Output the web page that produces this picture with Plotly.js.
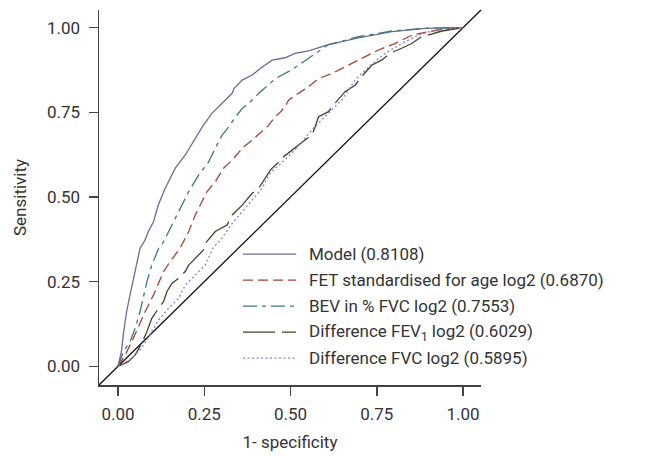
<!DOCTYPE html>
<html>
<head>
<meta charset="utf-8">
<script src="https://cdn.plot.ly/plotly-3.0.1.min.js"></script>
<style>html,body{margin:0;padding:0;background:#fff;}#chart{width:669px;height:456px;}</style>
</head>
<body>
<div id="chart"></div>
<script>
// ---- data (1 - specificity, sensitivity) ----
var seriesNames = [
  'Model (0.8108)',
  'FET standardised for age log2 (0.6870)',
  'BEV in % FVC log2 (0.7553)',
  'Difference FEV<sub>1</sub> log2 (0.6029)',
  'Difference FVC log2 (0.5895)'
];

var modelX = [0,0.005,0.01,0.016,0.025,0.035,0.045,0.054,0.064,0.078,0.088,0.103,0.117,0.137,0.166,0.195,0.224,0.243,0.272,0.301,0.331,0.336,0.36,0.389,0.418,0.447,0.467,0.484,0.513,0.552,0.61,0.697,0.794,0.891,0.978,1];
var modelY = [0,0.02,0.044,0.098,0.162,0.211,0.261,0.309,0.349,0.372,0.398,0.427,0.477,0.526,0.585,0.624,0.673,0.705,0.747,0.776,0.806,0.82,0.845,0.86,0.884,0.904,0.909,0.911,0.924,0.931,0.95,0.97,0.988,0.998,1,1];

var fetX = [0,0.021,0.04,0.059,0.079,0.103,0.122,0.132,0.151,0.18,0.205,0.224,0.248,0.258,0.282,0.306,0.331,0.36,0.389,0.418,0.437,0.455,0.467,0.484,0.494,0.523,0.552,0.581,0.619,0.648,0.677,0.717,0.755,0.803,0.852,0.9,0.948,1];
var fetY = [0,0.034,0.073,0.117,0.162,0.211,0.26,0.28,0.309,0.349,0.398,0.447,0.496,0.516,0.545,0.585,0.609,0.644,0.668,0.695,0.712,0.737,0.747,0.766,0.786,0.806,0.825,0.85,0.864,0.879,0.894,0.914,0.934,0.953,0.978,0.988,0.996,1];

var bevX = [0,0.016,0.035,0.05,0.064,0.074,0.084,0.098,0.118,0.127,0.147,0.171,0.186,0.205,0.234,0.263,0.282,0.302,0.321,0.341,0.36,0.389,0.408,0.428,0.457,0.503,0.552,0.61,0.697,0.794,0.891,1];
var bevY = [0,0.044,0.073,0.113,0.162,0.211,0.25,0.299,0.349,0.358,0.398,0.447,0.476,0.516,0.565,0.604,0.644,0.683,0.707,0.737,0.761,0.786,0.806,0.825,0.85,0.875,0.909,0.95,0.973,0.99,0.998,1];

var fev1X = [0,0.03,0.05,0.069,0.084,0.098,0.118,0.132,0.142,0.156,0.176,0.195,0.205,0.224,0.248,0.253,0.282,0.316,0.331,0.36,0.389,0.408,0.423,0.442,0.467,0.474,0.542,0.561,0.57,0.581,0.61,0.624,0.658,0.687,0.706,0.735,0.764,0.788,0.822,0.851,0.88,0.919,0.939,1];
var fev1Y = [0,0.014,0.034,0.068,0.103,0.142,0.172,0.191,0.221,0.245,0.26,0.28,0.299,0.319,0.344,0.363,0.398,0.417,0.447,0.476,0.511,0.526,0.55,0.58,0.604,0.614,0.668,0.683,0.702,0.737,0.752,0.771,0.811,0.83,0.855,0.889,0.904,0.924,0.939,0.953,0.973,0.983,0.99,1];

var fvcX = [0,0.04,0.069,0.098,0.118,0.147,0.176,0.195,0.224,0.253,0.275,0.301,0.331,0.36,0.389,0.418,0.437,0.455,0.467,0.513,0.57,0.61,0.648,0.687,0.726,0.774,0.822,0.871,0.919,1];
var fvcY = [0,0.024,0.054,0.103,0.137,0.172,0.201,0.24,0.27,0.299,0.349,0.378,0.422,0.457,0.491,0.526,0.565,0.585,0.594,0.639,0.707,0.747,0.786,0.845,0.884,0.924,0.953,0.978,0.993,1];

var tickVals = [0, 0.25, 0.5, 0.75, 1];
var tickText = ['0.00', '0.25', '0.50', '0.75', '1.00'];
var xTitle = '1- specificity';
var yTitle = 'Sensitivity';

// ---- styles ----
var colors = ['#6c6a9c', '#a6452f', '#3e7c74', '#47402a', '#8d7fcf'];
var dashes = ['solid', '10px,5px', '14px,5px,4px,5px', '32px,7px', '2px,2.5px'];
var widths = [1.3, 1.3, 1.3, 1.3, 1.3];
var xs = [modelX, fetX, bevX, fev1X, fvcX];
var ys = [modelY, fetY, bevY, fev1Y, fvcY];

var FONT = 'Roboto, "DejaVu Sans", sans-serif';
var FS = 17;
var TXT = '#333333';
var AX = '#444444';

var traces = xs.map(function (x, i) {
  return {
    x: x, y: ys[i], type: 'scatter', mode: 'lines', name: seriesNames[i],
    line: {color: colors[i], width: widths[i], dash: dashes[i]},
    showlegend: false, hoverinfo: 'x+y'
  };
});

var rng = [-0.055, 1.052];

// manual legend (keys + labels)
var shapes = [{
  type: 'line', xref: 'paper', yref: 'paper', x0: 0, y0: 0, x1: 1, y1: 1,
  line: {color: '#111111', width: 1.3}, layer: 'below'
}];
var annotations = [];
var legTop = 0.349, legStep = 0.0693;
seriesNames.forEach(function (nm, i) {
  var yy = legTop - i * legStep;
  shapes.push({
    type: 'line', xref: 'paper', yref: 'paper', x0: 0.377, x1: 0.516, y0: yy, y1: yy,
    line: {color: colors[i], width: widths[i], dash: dashes[i]}
  });
  annotations.push({
    xref: 'paper', yref: 'paper', x: 0.545, y: yy, xanchor: 'left', yanchor: 'middle',
    text: nm, showarrow: false, font: {family: FONT, size: FS, color: TXT}
  });
});

var layout = {
  width: 669, height: 456,
  margin: {l: 99, r: 188, t: 10, b: 71, pad: 0},
  paper_bgcolor: '#ffffff', plot_bgcolor: '#ffffff',
  font: {family: FONT, size: FS, color: TXT},
  showlegend: false,
  xaxis: {
    range: rng, showgrid: false, zeroline: false,
    showline: true, linecolor: AX, linewidth: 1.5, mirror: false,
    ticks: 'outside', ticklen: 9, tickwidth: 1.5, tickcolor: AX,
    tickvals: tickVals, ticktext: tickText, ticklabelstandoff: 4,
    tickfont: {family: FONT, size: FS, color: TXT},
    title: {text: xTitle, font: {family: FONT, size: FS, color: TXT}, standoff: 13}
  },
  yaxis: {
    range: rng, showgrid: false, zeroline: false,
    showline: true, linecolor: AX, linewidth: 1.5, mirror: false,
    ticks: 'outside', ticklen: 9, tickwidth: 1.5, tickcolor: AX,
    tickvals: tickVals, ticktext: tickText, ticklabelstandoff: 5,
    tickfont: {family: FONT, size: FS, color: TXT},
    title: {text: yTitle, font: {family: FONT, size: FS, color: TXT}, standoff: 16}
  },
  shapes: shapes,
  annotations: annotations
};

Plotly.newPlot('chart', traces, layout, {displayModeBar: false, staticPlot: true});
</script>
</body>
</html>
